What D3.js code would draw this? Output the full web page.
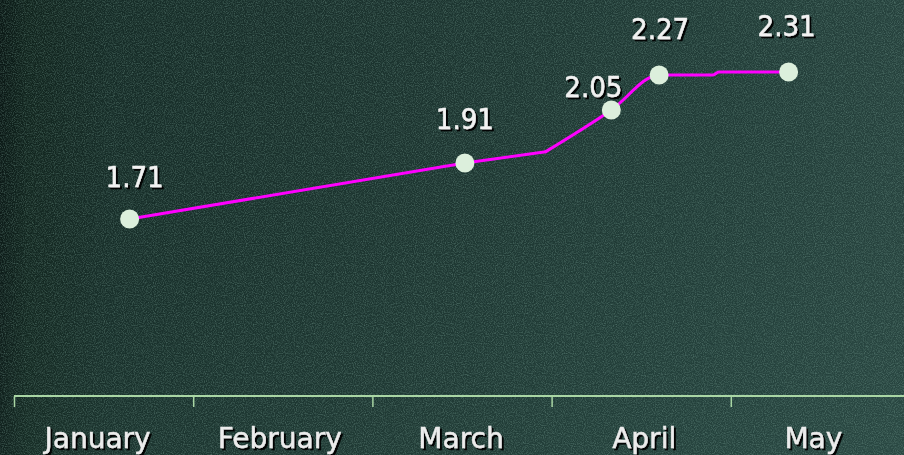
<!DOCTYPE html>
<html>
<head>
<meta charset="utf-8">
<script src="https://cdn.jsdelivr.net/npm/d3@7/dist/d3.min.js"></script>
<style>
  html, body { margin: 0; padding: 0; background: #1c3530; }
  svg { display: block; }
</style>
</head>
<body>
<div id="chart"></div>
<script>
// ---- data ----
const months = ["January", "February", "March", "April", "May"];
const dates = ["2024-01-21", "2024-03-17", "2024-03-31", "2024-04-11", "2024-04-19", "2024-04-28", "2024-04-29", "2024-05-11"];
const values = [1.71, 1.91, 1.94, 2.05, 2.27, 2.27, 2.31, 2.31];
const labelled = [true, true, false, true, true, false, false, true];
const valueLabels = ["1.71", "1.91", "", "2.05", "2.27", "", "", "2.31"];

// ---- layout ----
const W = 904, H = 455;
const axisY = 396;
const smoothFrom = 2; // index where the line turns into a smoothed curve
const labelOffsets = [[5, -32], [0, -34], [0, 0], [-18, -13], [1, -36], [0, 0], [0, 0], [-2, -36]];
const monthLabelDx = [-6, -3, -1, 3, -7];

const svg = d3.select("#chart").append("svg").attr("width", W).attr("height", H);
const defs = svg.append("defs");

const bg = defs.append("linearGradient").attr("id", "bg").attr("x1", 0).attr("x2", 1).attr("y1", 0).attr("y2", 0);
[[0, "#0b1916"], [0.03, "#12261f"], [0.12, "#172e29"], [0.45, "#1d3631"], [0.75, "#223e39"], [1, "#284540"]]
  .forEach(([o, c]) => bg.append("stop").attr("offset", o).attr("stop-color", c));
const bg2 = defs.append("linearGradient").attr("id", "bg2").attr("x1", 0).attr("x2", 0).attr("y1", 0).attr("y2", 1);
bg2.append("stop").attr("offset", 0).attr("stop-color", "#000").attr("stop-opacity", 0.05);
bg2.append("stop").attr("offset", 1).attr("stop-color", "#3a6058").attr("stop-opacity", 0.12);

const noise = defs.append("filter").attr("id", "noise").attr("x", 0).attr("y", 0).attr("width", "100%").attr("height", "100%");
noise.append("feTurbulence").attr("type", "fractalNoise").attr("baseFrequency", 0.9).attr("numOctaves", 2).attr("seed", 3).attr("result", "t");
noise.append("feColorMatrix").attr("type", "matrix")
  .attr("values", "0 0 0 0 0.25  0 0 0 0 0.45  0 0 0 0 0.38  0 0 0 1.4 -0.55");

const shadow = defs.append("filter").attr("id", "shadow").attr("x", "-20%").attr("y", "-20%").attr("width", "140%").attr("height", "150%");
shadow.append("feOffset").attr("in", "SourceAlpha").attr("dx", 2).attr("dy", 2).attr("result", "o");
shadow.append("feFlood").attr("flood-color", "#000").attr("flood-opacity", 0.95);
shadow.append("feComposite").attr("in2", "o").attr("operator", "in").attr("result", "s");
const m = shadow.append("feMerge");
m.append("feMergeNode").attr("in", "s");
m.append("feMergeNode").attr("in", "SourceGraphic");

svg.append("rect").attr("width", W).attr("height", H).attr("fill", "url(#bg)");
svg.append("rect").attr("width", W).attr("height", H).attr("fill", "url(#bg2)");
svg.append("rect").attr("width", W).attr("height", H).attr("filter", "url(#noise)").attr("opacity", 0.55);

// ---- scales ----
const parse = d3.timeParse("%Y-%m-%d");
function monthPos(d) {
  const dt = parse(d);
  const start = d3.timeMonth.floor(dt), end = d3.timeMonth.offset(start, 1);
  const days = d3.timeDay.count(start, end);
  return dt.getMonth() + (dt.getDate() - 1) / days;
}
const x = d3.scaleLinear().domain([0, months.length]).range([14, 910]);
const y = d3.scaleLinear().domain([1.71, 1.91, 2.05, 2.27, 2.31]).range([219, 163, 110, 75, 72]);

const pts = dates.map((d, i) => ({ mx: monthPos(d), v: values[i], lab: labelled[i], text: valueLabels[i], off: labelOffsets[i] }));

// ---- axis ----
const axis = d3.axisBottom(x).tickValues(d3.range(0, months.length)).tickSize(11).tickSizeOuter(0).tickFormat("");
const ag = svg.append("g").attr("transform", `translate(0,${axisY})`).call(axis);
ag.select(".domain").attr("stroke", "#a9d6a4").attr("stroke-width", 2).attr("d", `M14,0H${W}`);
ag.selectAll(".tick line").attr("stroke", "#a9d6a4").attr("stroke-width", 1.5);

svg.append("g").selectAll("text").data(months).join("text")
  .attr("x", (d, i) => x(i + 0.5) + monthLabelDx[i])
  .attr("y", 448)
  .attr("text-anchor", "middle")
  .attr("font-family", "'DejaVu Sans', sans-serif")
  .attr("font-size", 28)
  .attr("fill", "#ececec")
  .attr("stroke", "#ececec").attr("stroke-width", 0.4)
  .attr("filter", "url(#shadow)")
  .text(d => d);

// ---- line ----
const straight = d3.line().x(d => x(d.mx)).y(d => y(d.v));
const smooth = d3.line().curve(d3.curveMonotoneX).x(d => x(d.mx)).y(d => y(d.v));
const lg = svg.append("g").attr("fill", "none").attr("stroke", "#ff00ff").attr("stroke-width", 3)
  .attr("stroke-linejoin", "round").attr("stroke-linecap", "round");
lg.append("path").attr("d", straight(pts.slice(0, smoothFrom + 1)));
lg.append("path").attr("d", smooth(pts.slice(smoothFrom)));

svg.append("g").selectAll("circle").data(pts.filter(p => p.lab)).join("circle")
  .attr("cx", d => x(d.mx)).attr("cy", d => y(d.v)).attr("r", 9.5)
  .attr("fill", "#dcefdc");

svg.append("g").selectAll("text").data(pts.filter(p => p.lab)).join("text")
  .attr("x", d => x(d.mx) + d.off[0])
  .attr("y", d => y(d.v) + d.off[1])
  .attr("text-anchor", "middle")
  .attr("font-family", "'DejaVu Sans Condensed', 'DejaVu Sans', sans-serif")
  .attr("font-stretch", "condensed")
  .attr("font-size", 29)
  .attr("fill", "#f2f2f2")
  .attr("stroke", "#f2f2f2").attr("stroke-width", 0.5)
  .attr("filter", "url(#shadow)")
  .text(d => d.text);
</script>
</body>
</html>
